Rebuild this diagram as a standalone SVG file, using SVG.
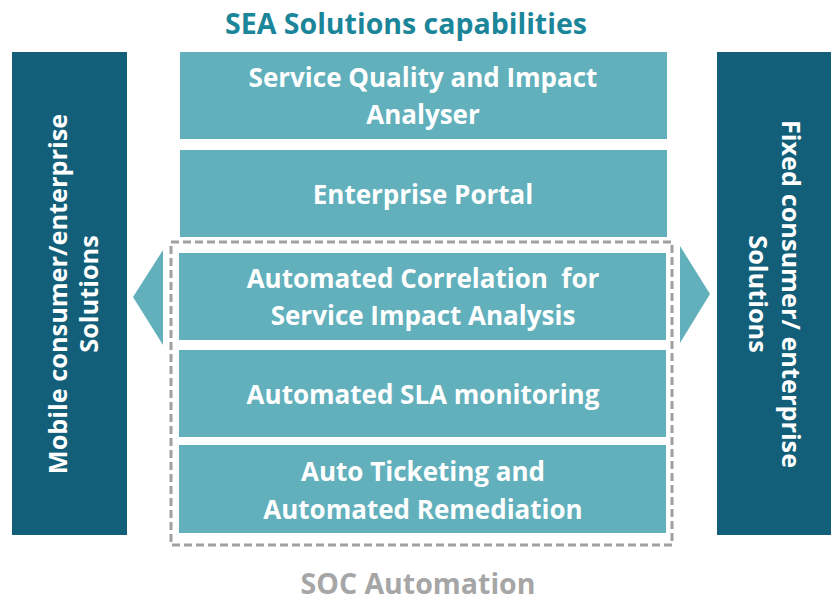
<svg xmlns="http://www.w3.org/2000/svg" width="833" height="601" viewBox="0 0 833 601">
<style>
.dark{fill:#135F7A}
.teal{fill:#62B0BC}
.t{font-family:"Open Sans","Liberation Sans",sans-serif;font-weight:bold;font-size:26px;fill:#fff;text-anchor:middle;white-space:pre}
.v{font-size:25.3px}
.title{font-family:"Open Sans","Liberation Sans",sans-serif;font-weight:bold;font-size:28.5px;fill:#1B8599;text-anchor:middle}
.soc{font-family:"Open Sans","Liberation Sans",sans-serif;font-weight:bold;font-size:28.5px;fill:#A6A6A6;text-anchor:middle}
</style>
<rect width="833" height="601" fill="#fff"/>
<text class="title" x="406" y="34">SEA Solutions capabilities</text>
<g id="left-panel">
<rect class="dark" x="12" y="52" width="115" height="483"/>
<text class="t v" transform="translate(67,294) rotate(-90)">Mobile consumer/enterprise</text>
<text class="t v" transform="translate(98,294) rotate(-90)">Solutions</text>
</g>
<g id="right-panel">
<rect class="dark" x="717" y="52" width="114" height="483"/>
<text class="t v" transform="translate(782,294) rotate(90)">Fixed consumer/ enterprise</text>
<text class="t v" transform="translate(749,294) rotate(90)">Solutions</text>
</g>
<g id="box1"><rect class="teal" x="180" y="52" width="487" height="87"/>
<text class="t" x="423" y="87">Service Quality and Impact</text>
<text class="t" x="423" y="124">Analyser</text></g>
<g id="box2"><rect class="teal" x="180" y="150" width="487" height="87"/>
<text class="t" x="423" y="204">Enterprise Portal</text></g>
<g id="box3"><rect class="teal" x="179" y="253" width="487" height="87"/>
<text class="t" x="423" y="288" xml:space="preserve">Automated Correlation  for</text>
<text class="t" x="423" y="325">Service Impact Analysis</text></g>
<g id="box4"><rect class="teal" x="179" y="350" width="487" height="87"/>
<text class="t" x="423" y="404">Automated SLA monitoring</text></g>
<g id="box5"><rect class="teal" x="179" y="445" width="487" height="88"/>
<text class="t" x="423" y="481">Auto Ticketing and</text>
<text class="t" x="423" y="519">Automated Remediation</text></g>
<g id="connectors">
<polygon class="teal" points="163,250 133,297 163,345"/>
<polygon class="teal" points="680,246 710,294 680,343"/>
</g>
<g id="soc-group">
<rect x="171" y="242" width="501" height="303" fill="none" stroke="#A0A0A0" stroke-width="3" stroke-dasharray="8,4"/>
<text class="soc" x="418" y="594">SOC Automation</text>
</g>
</svg>
